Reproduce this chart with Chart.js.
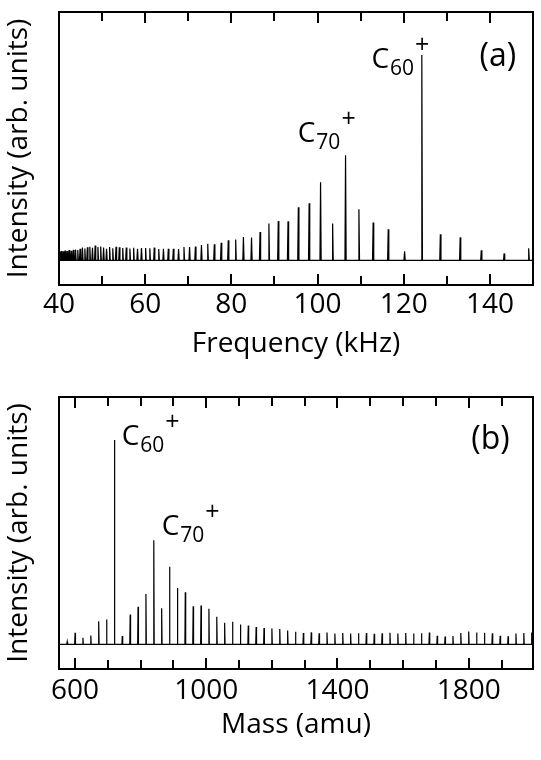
<!DOCTYPE html>
<html>
<head>
<meta charset="utf-8">
<script src="https://cdn.jsdelivr.net/npm/chart.js@4"></script>
<style>
  html, body { margin: 0; padding: 0; background: #fff; }
  body { width: 541px; height: 760px; position: relative; overflow: hidden; }
  .panel { position: absolute; left: 0; width: 541px; height: 380px; }
  #panelA { top: 0; }
  #panelB { top: 380px; }
</style>
</head>
<body>
<div class="panel" id="panelA"><canvas id="chartA" width="541" height="380"></canvas></div>
<div class="panel" id="panelB"><canvas id="chartB" width="541" height="380"></canvas></div>
<script>
// --- Datos (a): frecuencia de ciclotrón (kHz) e intensidad de cada pico ---
const freqPeaks = [
    40.06, 40.50, 40.95, 41.40, 41.87, 42.34, 42.83, 43.33, 43.84, 44.36,
    44.89, 45.44, 46.00, 46.58, 47.16, 47.77, 48.39, 49.03, 49.68, 50.35,
    51.04, 51.75, 52.48, 53.23, 54.00, 54.79, 55.61, 56.45, 57.32, 58.22,
    59.14, 60.10, 61.08, 62.10, 63.15, 64.24, 65.37, 66.54, 67.75, 69.00,
    70.30, 71.65, 73.06, 74.52, 76.04, 77.63, 79.28, 81.00, 82.80, 84.68,
    86.65, 88.71, 90.88, 93.15, 95.54, 98.05, 100.7, 103.5, 106.5, 109.6,
    112.9, 116.4, 120.2, 124.2, 128.5, 133.1, 138.0, 143.3, 149.0
];
const freqIntensity = [
    4.2, 4.6, 4.4, 4.8, 4.5, 5.0, 4.7, 5.1, 5.3, 5.0,
    5.6, 6.2, 5.8, 6.4, 6.6, 6.1, 7.2, 6.5, 6.8, 6.2,
    5.6, 6.5, 5.9, 6.6, 6.4, 6.0, 6.3, 5.8, 6.1, 5.7,
    6.0, 6.0, 5.9, 6.2, 5.5, 5.7, 5.7, 5.7, 5.5, 6.5,
    6.5, 6.8, 7.5, 8.1, 7.8, 8.6, 9.8, 10.2, 11.4, 11.1,
    13.8, 18.0, 19.2, 19.0, 25.9, 27.8, 38.0, 18.0, 51.2, 24.9,
    18.5, 15.1, 4.4, 100, 12.7, 11.2, 4.9, 3.4, 5.9
];
const freqTicks = [40, 50, 60, 70, 80, 90, 100, 110, 120, 130, 140, 150];
const freqLabels = [40, 60, 80, 100, 120, 140];

// --- Datos (b): masa (amu) e intensidad de cada pico ---
const massPeaks = [
    576, 600, 624, 648, 672, 696, 720, 744, 768, 792,
    816, 840, 864, 888, 912, 936, 960, 984, 1008, 1032,
    1056, 1080, 1104, 1128, 1152, 1176, 1200, 1224, 1248, 1272,
    1296, 1320, 1344, 1368, 1392, 1416, 1440, 1464, 1488, 1512,
    1536, 1560, 1584, 1608, 1632, 1656, 1680, 1704, 1728, 1752,
    1776, 1800, 1824, 1848, 1872, 1896, 1920, 1944, 1968, 1992
];
const massIntensity = [
    1.3, 5.7, 3.3, 4.4, 11.4, 12.2, 100, 4.1, 14.6, 18.4,
    24.7, 50.9, 17.7, 38.0, 27.6, 25.5, 18.7, 19.0, 17.4, 13.5,
    10.6, 11.1, 9.8, 9.3, 8.5, 8.0, 7.8, 7.6, 6.8, 6.2,
    5.6, 5.9, 5.5, 5.8, 5.4, 5.6, 5.3, 5.5, 5.6, 5.2,
    5.5, 5.7, 5.4, 5.6, 5.3, 5.5, 5.8, 4.2, 3.9, 4.1,
    5.6, 6.3, 5.9, 5.7, 5.5, 4.3, 4.0, 5.4, 5.6, 5.8
];
const massTicks = [600, 700, 800, 900, 1000, 1100, 1200, 1300, 1400, 1500, 1600, 1700, 1800, 1900];
const massLabels = [600, 1000, 1400, 1800];

const FONT = "'Open Sans', 'DejaVu Sans', sans-serif";

// --- Helpers ---
function spikeLine(positions, heights, xMin, xMax, halfWidth) {
    const pts = [{ x: xMin, y: 0 }];
    positions.forEach((p, i) => {
        pts.push({ x: p - halfWidth, y: 0 });
        pts.push({ x: p, y: heights[i] });
        pts.push({ x: p + halfWidth, y: 0 });
    });
    pts.push({ x: xMax, y: 0 });
    return pts;
}

// marco y marcas hacia adentro (arriba y abajo)
function drawFrame(chart, tickValues, labelValues) {
    const { ctx, chartArea: a } = chart;
    const xScale = chart.scales.x;
    ctx.save();
    ctx.fillStyle = '#000';
    tickValues.forEach(v => {
        const x = Math.round(xScale.getPixelForValue(v));
        if (x <= a.left + 1 || x >= a.right - 1) return;
        const len = labelValues.includes(v) ? 11 : 9;
        ctx.fillRect(x - 1, a.bottom - len, 2, len);
        ctx.fillRect(x - 1, a.top, 2, len);
    });
    ctx.strokeStyle = '#000';
    ctx.lineWidth = 2;
    ctx.strokeRect(a.left, a.top, a.right - a.left, a.bottom - a.top);
    ctx.restore();
}

function drawPeakLabels(chart, items) {
    const { ctx, scales } = chart;
    ctx.save();
    ctx.fillStyle = '#000';
    ctx.textBaseline = 'alphabetic';
    items.forEach(item => {
        const x = scales.x.getPixelForValue(item.x);
        const y = scales.y.getPixelForValue(item.y);
        if (item.sub) {
            ctx.textAlign = 'left';
            ctx.font = `28px ${FONT}`;
            ctx.fillText('C', x, y);
            const w = ctx.measureText('C').width;
            ctx.font = `21px ${FONT}`;
            ctx.fillText(item.sub, x + w + 1, y + 7);
            const ws = ctx.measureText(item.sub).width;
            ctx.font = `25px ${FONT}`;
            ctx.fillText('+', x + w + ws + 2, y - 15);
        } else {
            ctx.textAlign = 'right';
            ctx.font = `32px ${FONT}`;
            ctx.fillText(item.text, x, y);
        }
    });
    ctx.restore();
}

function makeChart(canvasId, cfg) {
    const ctx = document.getElementById(canvasId).getContext('2d');
    return new Chart(ctx, {
        type: 'line',
        data: {
            datasets: [{
                data: spikeLine(cfg.peaks, cfg.heights, cfg.min, cfg.max, cfg.halfWidth),
                borderColor: '#000',
                borderWidth: 1.2,
                pointRadius: 0,
                tension: 0,
                fill: false
            }]
        },
        options: {
            responsive: false,
            animation: false,
            events: [],
            layout: { padding: { left: 0, right: 8, top: cfg.top, bottom: cfg.bottomPad } },
            plugins: {
                legend: { display: false },
                tooltip: { enabled: false }
            },
            scales: {
                x: {
                    type: 'linear',
                    min: cfg.min,
                    max: cfg.max,
                    grid: { display: false, drawTicks: false },
                    border: { display: false },
                    afterBuildTicks: s => { s.ticks = cfg.ticks.map(v => ({ value: v })); },
                    afterFit: s => { s.height = cfg.xAxisHeight; },
                    ticks: {
                        autoSkip: false,
                        maxRotation: 0,
                        padding: cfg.tickPad,
                        color: '#000',
                        font: { family: FONT, size: 28 },
                        callback: v => cfg.labels.includes(v) ? String(v) : ''
                    },
                    title: {
                        display: true,
                        text: cfg.xTitle,
                        color: '#000',
                        padding: 0,
                        font: { family: FONT, size: 28 }
                    }
                },
                y: {
                    min: -12,
                    max: 121,
                    grid: { display: false, drawTicks: false },
                    border: { display: false },
                    ticks: { display: false },
                    afterFit: s => { s.width = 59; },
                    title: {
                        display: true,
                        text: 'Intensity (arb. units)',
                        color: '#000',
                        padding: { top: 2, bottom: 0 },
                        font: { family: FONT, size: 28 }
                    }
                }
            }
        },
        plugins: [{
            id: 'frameTicks',
            afterDraw: chart => drawFrame(chart, cfg.ticks, cfg.labels)
        }, {
            id: 'peakLabels',
            afterDraw: chart => drawPeakLabels(chart, cfg.annotations)
        }]
    });
}

makeChart('chartA', {
    peaks: freqPeaks, heights: freqIntensity, min: 40, max: 150, halfWidth: 0.14,
    ticks: freqTicks, labels: freqLabels, xTitle: 'Frequency (kHz)',
    top: 12, bottomPad: 19, xAxisHeight: 76, tickPad: 3,
    annotations: [
        { x: 112.5, y: 93.7, sub: '60' },
        { x: 95.4, y: 57.6, sub: '70' },
        { x: 146.1, y: 94.6, text: '(a)' }
    ]
});

makeChart('chartB', {
    peaks: massPeaks, heights: massIntensity, min: 551, max: 1996, halfWidth: 1.2,
    ticks: massTicks, labels: massLabels, xTitle: 'Mass (amu)',
    top: 17, bottomPad: 18, xAxisHeight: 73, tickPad: 5,
    annotations: [
        { x: 742, y: 97.6, sub: '60' },
        { x: 864, y: 53.7, sub: '70' },
        { x: 1925, y: 95.6, text: '(b)' }
    ]
});
</script>
</body>
</html>
